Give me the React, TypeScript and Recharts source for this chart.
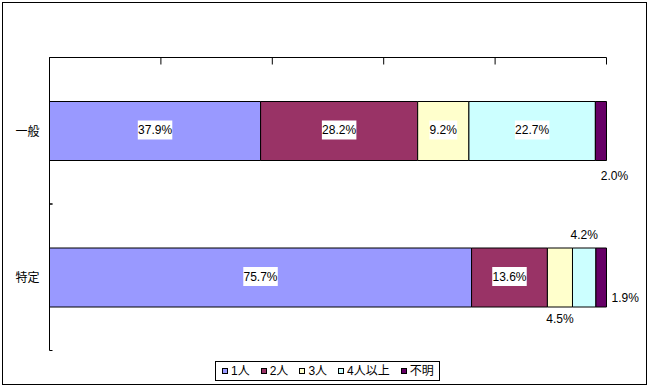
import { BarChart, Bar, XAxis, YAxis, LabelList, Legend } from "recharts";

const categories = ["一般", "特定"];
const seriesNames = ["1人", "2人", "3人", "4人以上", "不明"];
const onePerson = [37.9, 75.7];
const twoPeople = [28.2, 13.6];
const threePeople = [9.2, 4.5];
const fourPlus = [22.7, 4.2];
const unknown = [2.0, 1.9];
const xTicks = [0, 0.2, 0.4, 0.6, 0.8, 1];

const seriesValues = [onePerson, twoPeople, threePeople, fourPlus, unknown];
const colors = ["#9999FF", "#993366", "#FFFFCC", "#CCFFFF", "#660066"];
// where each value label sits, per series, per category
const placements = [
  ["in", "in"],
  ["in", "in"],
  ["in", "below"],
  ["in", "above"],
  ["belowRight", "right"],
];

const data = categories.map((name, i) => {
  const row: Record<string, string | number> = { name };
  seriesValues.forEach((vals, s) => (row["s" + s] = vals[i]));
  return row;
});

const font = '"Liberation Sans", "Noto Sans CJK JP", sans-serif';

function makeLabel(s: number) {
  return (props: any) => {
    const vb = props.viewBox ?? props;
    const { x, y, width, height } = vb;
    const idx = props.index ?? 0;
    const text = Number(props.value).toFixed(1) + "%";
    const mode = placements[s][idx];
    const cx = x + width / 2;
    const cy = y + height / 2 - 1;
    const common = { fontSize: 12, fill: "#000", fontFamily: font, dominantBaseline: "central" as const };
    if (mode === "in") {
      const w = text.length * 6.7 + 1;
      return (
        <g>
          <rect x={cx - w / 2} y={cy - 9.5} width={w} height={19} fill="#fff" />
          <text x={cx} y={cy} textAnchor="middle" {...common}>{text}</text>
        </g>
      );
    }
    if (mode === "above") return <text x={cx} y={y - 13} textAnchor="middle" {...common}>{text}</text>;
    if (mode === "below") return <text x={cx} y={y + height + 12} textAnchor="middle" {...common}>{text}</text>;
    if (mode === "belowRight") return <text x={x + width + 8} y={y + height + 15} textAnchor="middle" {...common}>{text}</text>;
    return <text x={x + width + 5} y={cy + 21} textAnchor="start" {...common}>{text}</text>;
  };
}

function NoTick() {
  return <g />;
}

// category label plus Excel-style tick marks on the band edges
function CategoryTick(props: any) {
  const { x, y, payload } = props;
  const off = payload.offset ?? 0;
  return (
    <g>
      <text x={x - 10} y={y + 1} textAnchor="end" dominantBaseline="central" fontSize={12} fill="#000" fontFamily={font}>
        {payload.value}
      </text>
      <line x1={x} x2={x + 3} y1={y - off} y2={y - off} stroke="#000" />
      <line x1={x} x2={x + 3} y1={y + off} y2={y + off} stroke="#000" />
    </g>
  );
}

function LegendBox(props: any) {
  const items = props.payload ?? [];
  return (
    <div
      style={{
        boxSizing: "border-box",
        width: 225,
        height: 20,
        border: "1px solid #000",
        background: "#fff",
        display: "flex",
        alignItems: "center",
        paddingLeft: 6,
        fontFamily: font,
        fontSize: 12,
        color: "#000",
        whiteSpace: "nowrap",
      }}
    >
      {items.map((it: any) => (
        <div key={it.value} style={{ display: "flex", alignItems: "center", marginRight: 11, flexShrink: 0 }}>
          <span
            style={{
              display: "inline-block",
              boxSizing: "border-box",
              width: 6,
              height: 6,
              border: "1px solid #000",
              background: it.color,
              marginRight: 3,
            }}
          />
          <span style={{ lineHeight: "14px" }}>{it.value}</span>
        </div>
      ))}
    </div>
  );
}

export default function App() {
  return (
    <div style={{ position: "absolute", left: 0, top: 0, width: 649, height: 387, background: "#fff", fontFamily: font }}>
      <div
        style={{
          position: "absolute",
          left: 2,
          top: 2,
          width: 645,
          height: 383,
          boxSizing: "border-box",
          border: "1px solid #000",
        }}
      />
      <BarChart
        width={649}
        height={387}
        data={data}
        layout="vertical"
        stackOffset="expand"
        margin={{ top: 56.5, right: 42.5, bottom: 36.5, left: 9.5 }}
        style={{ position: "absolute", left: 0, top: 0 }}
      >
        <XAxis
          type="number"
          orientation="top"
          domain={[0, 1]}
          ticks={xTicks}
          tick={<NoTick />}
          tickSize={-7}
          tickMargin={0}
          height={1}
          axisLine={{ stroke: "#000" }}
          tickLine={{ stroke: "#000" }}
        />
        <YAxis
          type="category"
          dataKey="name"
          width={40}
          tickLine={false}
          tickSize={0}
          tickMargin={0}
          axisLine={{ stroke: "#000" }}
          tick={<CategoryTick />}
        />
        <Legend
          layout="horizontal"
          verticalAlign="middle"
          align="center"
          wrapperStyle={{ left: 215, top: 361, width: 225, height: 20 }}
          content={<LegendBox />}
        />
        {seriesNames.map((name, s) => (
          <Bar
            key={name}
            dataKey={"s" + s}
            name={name}
            stackId="a"
            fill={colors[s]}
            stroke="#000"
            strokeWidth={1}
            barSize={59}
            isAnimationActive={false}
          >
            <LabelList dataKey={"s" + s} content={makeLabel(s)} />
          </Bar>
        ))}
      </BarChart>
    </div>
  );
}
